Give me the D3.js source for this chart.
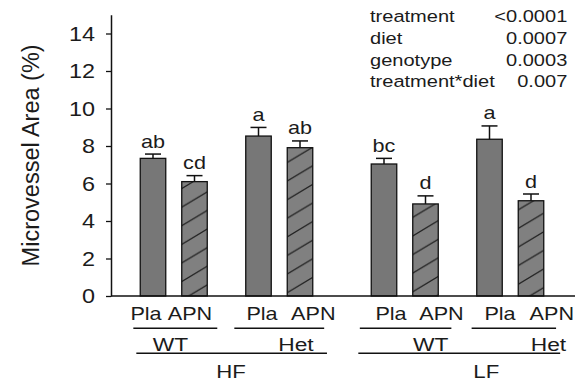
<!DOCTYPE html>
<html>
<head>
<meta charset="utf-8">
<script src="https://cdn.jsdelivr.net/npm/d3@7"></script>
<style>
  html, body { margin: 0; padding: 0; background: #fff; }
  svg { display: block; font-family: "Liberation Sans", Arial, sans-serif; }
</style>
</head>
<body>
<svg id="chart" width="585" height="383"></svg>
<script>
// ---- data ----
const diets = ["HF", "LF"];
const genotypes = ["WT", "Het"];
const treatments = ["Pla", "APN"];
// bar order: diet > genotype > treatment
const means = [7.34, 6.10, 8.53, 7.91, 7.04, 4.91, 8.36, 5.08];
const sems  = [0.23, 0.32, 0.46, 0.36, 0.30, 0.43, 0.71, 0.36];
const letters = ["ab", "cd", "a", "ab", "bc", "d", "a", "d"];
const yTicks = [0, 2, 4, 6, 8, 10, 12, 14];
const statTerms = ["treatment", "diet", "genotype", "treatment*diet"];
const statPvals = ["<0.0001", "0.0007", "0.0003", "0.007"];
const yTitle = "Microvessel Area (%)";

// ---- layout ----
const axisX = 111, axisRight = 575, baseY = 296;
const SX = 1.2;               // horizontal glyph stretch
const ink = "#1b1b1b";

const bars = [];
diets.forEach(d => genotypes.forEach(g => treatments.forEach(t => bars.push({ diet: d, geno: g, treat: t }))));
bars.forEach((b, i) => { b.mean = means[i]; b.sem = sems[i]; b.letter = letters[i]; b.i = i; });

const svg = d3.select("#chart");

const y = d3.scaleLinear().domain([0, 15]).range([baseY, 14.75]);
const xDiet = d3.scaleBand().domain(diets).range([axisX, 573]).paddingInner(0.1).paddingOuter(0.05);
const xGeno = d3.scaleBand().domain(genotypes).range([0, xDiet.bandwidth()]).paddingInner(0.3).paddingOuter(0.1353);
const xTreat = d3.scaleBand().domain(treatments).range([0, xGeno.bandwidth()]).paddingInner(0.3855).paddingOuter(0.0825);

const genoStart = (d, g) => xDiet(d) + xGeno(g);
const barX = b => genoStart(b.diet, b.geno) + xTreat(b.treat);
const barC = b => barX(b) + xTreat.bandwidth() / 2;

// hand-placed label nudges (pixels)
const treatLabelDx = [-7, -4.5, 3.5, 13.3, 7, 16, 10.5, 20.8];
const genoLineExt = [[-3.5, 6.6], [-8, 8], [-8, 9.7], [-1.7, 8.9]];
const genoLabelDx = [-3.2, 16.7, 26, 38.2];
const dietLineExt = [[-0.5, 10.8], [-9.5, 13]];
const dietLabelDx = [4.5, 28.8];

function stretched(sel, x, yy) {
  return sel.attr("transform", `translate(${x},${yy}) scale(${SX},1)`);
}

// ---- hatch pattern (rising diagonals) ----
const defs = svg.append("defs");
const pat = defs.append("pattern")
  .attr("id", "hatch")
  .attr("patternUnits", "userSpaceOnUse")
  .attr("width", 31).attr("height", 18.6);
pat.append("rect").attr("width", 31).attr("height", 18.6).attr("fill", "#808080");
pat.append("path")
  .attr("d", "M-2,19.8 L33,-1.2 M-2,1.2 L2,-1.2 M29,19.8 L33,17.4")
  .attr("stroke", "#222").attr("stroke-width", 1.3).attr("fill", "none");

// ---- bars ----
svg.append("g").selectAll("rect")
  .data(bars).join("rect")
  .attr("x", barX)
  .attr("y", d => y(d.mean))
  .attr("width", xTreat.bandwidth())
  .attr("height", d => y(0) - y(d.mean))
  .attr("fill", d => d.treat === "APN" ? "url(#hatch)" : "#777777")
  .attr("stroke", "#111").attr("stroke-width", 1.3);

// ---- error bars (upper) ----
const eg = svg.append("g").attr("stroke", "#111").attr("stroke-width", 1.5);
eg.selectAll("line.v").data(bars).join("line").attr("class", "v")
  .attr("x1", barC).attr("x2", barC)
  .attr("y1", d => y(d.mean)).attr("y2", d => y(d.mean + d.sem));
eg.selectAll("line.c").data(bars).join("line").attr("class", "c")
  .attr("x1", d => barC(d) - 8).attr("x2", d => barC(d) + 8)
  .attr("y1", d => y(d.mean + d.sem)).attr("y2", d => y(d.mean + d.sem));

// ---- significance letters ----
svg.append("g").selectAll("text")
  .data(bars).join("text")
  .attr("text-anchor", "middle")
  .attr("font-size", 18).attr("fill", ink)
  .each(function (d) { stretched(d3.select(this), barC(d), y(d.mean + d.sem) - 6.5); })
  .text(d => d.letter);

// ---- y axis ----
const yAxis = svg.append("g")
  .attr("transform", `translate(${axisX},0)`)
  .call(d3.axisLeft(y).tickValues(yTicks).tickSize(5).tickSizeOuter(0).tickFormat(d3.format("d")));
yAxis.select(".domain").attr("stroke", "#111").attr("stroke-width", 1.5);
yAxis.selectAll(".tick line").attr("stroke", "#111").attr("stroke-width", 1.3);
yAxis.selectAll(".tick text")
  .attr("x", null).attr("dy", "0.35em")
  .attr("transform", `translate(-16,0) scale(${SX},1)`)
  .attr("font-size", 19.5).attr("fill", ink)
  .attr("font-family", "'Liberation Sans', Arial, sans-serif");

// ---- x axis baseline ----
svg.append("line")
  .attr("x1", axisX).attr("x2", axisRight)
  .attr("y1", y(0)).attr("y2", y(0))
  .attr("stroke", "#111").attr("stroke-width", 1.5);

// ---- y title ----
svg.append("text")
  .attr("transform", `translate(38.5,${(y(0) + y(15)) / 2}) rotate(-90)`)
  .attr("text-anchor", "middle")
  .attr("font-size", 23.5).attr("fill", ink)
  .text(yTitle);

// ---- treatment labels ----
svg.append("g").selectAll("text")
  .data(bars).join("text")
  .attr("text-anchor", "middle")
  .attr("font-size", 18).attr("fill", ink)
  .each(function (d) { stretched(d3.select(this), barC(d) + treatLabelDx[d.i], 320); })
  .text(d => d.treat);

// ---- genotype lines and labels ----
const genoGroups = [];
diets.forEach(d => genotypes.forEach(g => genoGroups.push({ diet: d, geno: g })));
genoGroups.forEach((gg, i) => {
  const x0 = genoStart(gg.diet, gg.geno);
  const x1 = x0 + xGeno.bandwidth();
  svg.append("line")
    .attr("x1", x0 + genoLineExt[i][0]).attr("x2", x1 + genoLineExt[i][1])
    .attr("y1", 328.3).attr("y2", 328.3)
    .attr("stroke", "#111").attr("stroke-width", 1.4);
  stretched(svg.append("text"), (x0 + x1) / 2 + genoLabelDx[i], 350.7)
    .attr("text-anchor", "middle")
    .attr("font-size", 19).attr("fill", ink)
    .text(gg.geno);
});

// ---- diet lines and labels ----
diets.forEach((d, i) => {
  const x0 = xDiet(d) + xGeno("WT");
  const x1 = xDiet(d) + xGeno("Het") + xGeno.bandwidth();
  svg.append("line")
    .attr("x1", x0 + dietLineExt[i][0]).attr("x2", x1 + dietLineExt[i][1])
    .attr("y1", 353.3).attr("y2", 353.3)
    .attr("stroke", "#111").attr("stroke-width", 1.4);
  stretched(svg.append("text"), xDiet(d) + xDiet.bandwidth() / 2 + dietLabelDx[i], 378.3)
    .attr("text-anchor", "middle")
    .attr("font-size", 18.5).attr("fill", ink)
    .text(d);
});

// ---- statistics table ----
const statG = svg.append("g");
statTerms.forEach((t, i) => {
  const by = 22.3 + i * 21.7;
  stretched(statG.append("text"), 370, by)
    .attr("font-size", 16.7).attr("fill", ink).text(t);
  stretched(statG.append("text"), 567.3, by)
    .attr("text-anchor", "end")
    .attr("font-size", 16.7).attr("fill", ink).text(statPvals[i]);
});
</script>
</body>
</html>
